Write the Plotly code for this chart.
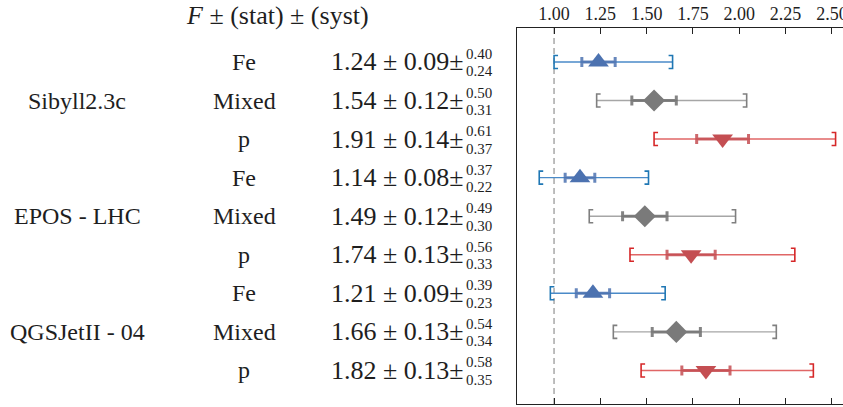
import plotly.graph_objects as go

# ---------------- data ----------------
models = ["Sibyll2.3c", "EPOS - LHC", "QGSJetII - 04"]
compositions = ["Fe", "Mixed", "p"]
F = [1.24, 1.54, 1.91, 1.14, 1.49, 1.74, 1.21, 1.66, 1.82]
stat = [0.09, 0.12, 0.14, 0.08, 0.12, 0.13, 0.09, 0.13, 0.13]
syst_up = [0.40, 0.50, 0.61, 0.37, 0.49, 0.56, 0.39, 0.54, 0.58]
syst_dn = [0.24, 0.31, 0.37, 0.22, 0.30, 0.33, 0.23, 0.34, 0.35]
x_ticks = [1.00, 1.25, 1.50, 1.75, 2.00, 2.25, 2.50]
ref_value = 1.0
header = "<i>F</i> ± (stat) ± (syst)"

# ---------------- styles ----------------
W, H = 843, 407
ML, MT, MB, MR = 517, 28, 3, 0
XMIN, XMAX = 0.80, 2.56
YMIN, YMAX = -0.88, 8.87
FONT = "Liberation Serif"
TXT = "#1e1e1e"
styles = {
    "Fe": dict(marker="triangle-up", mcol="#4c72b0", stat="rgba(76,114,176,0.85)",
               line="#4a8ac8", brk="#1f77b4", size=18),
    "Mixed": dict(marker="diamond", mcol="#7a7a7a", stat="rgba(110,110,110,0.85)",
                  line="#a6a6a6", brk="#7f7f7f", size=17),
    "p": dict(marker="triangle-down", mcol="#c44e52", stat="rgba(196,78,82,0.85)",
              line="#e06666", brk="#d62728", size=18),
}

pw = W - ML - MR
ph = H - MT - MB
dx_px = (XMAX - XMIN) / pw
dy_px = (YMAX - YMIN) / ph
arm = 4 * dx_px
half = 6.5 * dy_px

fig = go.Figure()

rows = list(range(len(F)))
comp_of_row = [compositions[i % 3] for i in rows]

for comp in compositions:
    st = styles[comp]
    idx = [i for i in rows if comp_of_row[i] == comp]
    lx, ly = [], []
    bx, by = [], []
    for i in idx:
        lo = F[i] - syst_dn[i]
        hi = F[i] + syst_up[i]
        lx += [lo, hi, None]
        ly += [i, i, None]
        bx += [lo + arm, lo, lo, lo + arm, None, hi - arm, hi, hi, hi - arm, None]
        by += [i - half, i - half, i + half, i + half, None,
               i - half, i - half, i + half, i + half, None]
    fig.add_trace(go.Scatter(x=lx, y=ly, mode="lines",
                             line=dict(color=st["line"], width=1.4),
                             hoverinfo="skip", showlegend=False))
    fig.add_trace(go.Scatter(x=bx, y=by, mode="lines",
                             line=dict(color=st["brk"], width=1.6),
                             hoverinfo="skip", showlegend=False))
    fig.add_trace(go.Scatter(
        x=[F[i] for i in idx], y=idx, mode="markers",
        marker=dict(symbol=st["marker"], size=st["size"], color=st["mcol"],
                    line=dict(width=0)),
        error_x=dict(type="data", array=[stat[i] for i in idx], symmetric=True,
                     color=st["stat"], thickness=3, width=5),
        showlegend=False))

fig.add_shape(type="line", xref="x", yref="paper", x0=ref_value, x1=ref_value,
              y0=0, y1=1, line=dict(color="#a8a8a8", width=1.5, dash="6px,4px"),
              layer="below")


def px2paper(px):
    return (px - ML) / pw


ann = []
ann.append(dict(text=header, xref="paper", yref="paper", x=px2paper(277), y=1,
                yshift=13, xanchor="center", yanchor="middle", showarrow=False,
                font=dict(family=FONT, size=26, color=TXT)))
for m, name in enumerate(models):
    ann.append(dict(text=name, xref="paper", yref="y", x=px2paper(77), y=3 * m + 1,
                    xanchor="center", yanchor="middle", showarrow=False,
                    font=dict(family=FONT, size=24, color=TXT)))
for i in rows:
    ann.append(dict(text=comp_of_row[i], xref="paper", yref="y", x=px2paper(244), y=i,
                    xanchor="center", yanchor="middle", showarrow=False,
                    font=dict(family=FONT, size=24, color=TXT)))
    ann.append(dict(text=f"{F[i]:.2f} ± {stat[i]:.2f}±", xref="paper", yref="y",
                    x=px2paper(466), y=i, xanchor="right", yanchor="middle",
                    showarrow=False, font=dict(family=FONT, size=26, color=TXT)))
    ann.append(dict(text=f"{syst_up[i]:.2f}", xref="paper", yref="y",
                    x=px2paper(465), y=i, yshift=8, xanchor="left", yanchor="middle",
                    showarrow=False, borderpad=0,
                    font=dict(family=FONT, size=15, color=TXT)))
    ann.append(dict(text=f"{syst_dn[i]:.2f}", xref="paper", yref="y",
                    x=px2paper(465), y=i, yshift=-9.5, xanchor="left", yanchor="middle",
                    showarrow=False, borderpad=0,
                    font=dict(family=FONT, size=15, color=TXT)))

fig.update_layout(
    width=W, height=H,
    margin=dict(l=ML, r=MR, t=MT, b=MB, pad=0),
    paper_bgcolor="white", plot_bgcolor="white",
    annotations=ann,
    xaxis=dict(range=[XMIN, XMAX], side="top", tickvals=x_ticks,
               ticktext=[f"{v:.2f}" for v in x_ticks],
               ticks="inside", ticklen=6, tickwidth=1.2, tickcolor="#222",
               showline=True, linecolor="#222", linewidth=1.4, mirror="ticks",
               showgrid=False, zeroline=False, automargin=False,
               ticklabeloverflow="allow",
               tickfont=dict(family=FONT, size=18, color=TXT)),
    yaxis=dict(range=[YMAX, YMIN], showticklabels=False, ticks="",
               showline=True, linecolor="#222", linewidth=1.4, mirror=False,
               showgrid=False, zeroline=False, automargin=False),
)

fig.write_html("out.html")
